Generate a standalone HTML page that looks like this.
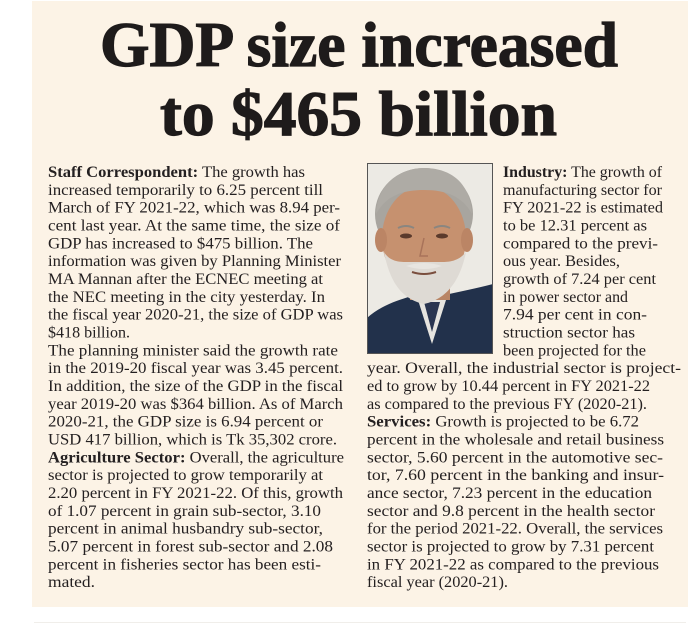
<!DOCTYPE html>
<html>
<head>
<meta charset="utf-8">
<style>
html,body{margin:0;padding:0;background:#ffffff;}
svg{display:block;}
.h{font-family:"Liberation Serif",serif;font-weight:bold;font-size:64px;fill:#1e1b1b;stroke:#1e1b1b;stroke-width:1.2px;}
.t{font-family:"Liberation Serif",serif;font-size:16px;fill:#242021;}
.b{font-weight:bold;}
</style>
</head>
<body>
<svg width="700" height="625" viewBox="0 0 700 625" xmlns="http://www.w3.org/2000/svg">
  <rect x="0" y="0" width="700" height="625" fill="#ffffff"/>
  <rect x="32" y="1" width="656" height="606" fill="#fcf3e6"/>
  <line x1="34" y1="622.5" x2="686" y2="622.5" stroke="#f0eeea" stroke-width="1"/>

  <!-- Headline -->
  <text class="h" x="100" y="66" textLength="518" lengthAdjust="spacingAndGlyphs">GDP size increased</text>
  <text class="h" x="160" y="135" textLength="397" lengthAdjust="spacingAndGlyphs">to $465 billion</text>

  <!-- Photo -->
  <g>
    <clipPath id="pc"><rect x="367" y="163" width="126" height="191"/></clipPath>
    <g clip-path="url(#pc)">
      <rect x="367" y="163" width="126" height="191" fill="#eceae4"/>
      <path d="M367,354 L367,318 C380,306 398,300 412,296 L440,296 C458,292 478,288 493,284 L493,354 Z" fill="#22314b"/>
      <path d="M418,300 L432,344 L446,300 Z" fill="#e6e4df"/>
      <path d="M424,302 L432,332 L440,302 Z" fill="#2a3550"/>
      <rect x="410" y="270" width="40" height="30" fill="#b98565"/>
      <ellipse cx="424" cy="214" rx="49" ry="46" fill="#a8a59f"/>
      <ellipse cx="424" cy="238" rx="42" ry="52" fill="#c6916f"/>
      <ellipse cx="381" cy="240" rx="6" ry="12" fill="#bb8565"/>
      <ellipse cx="467" cy="240" rx="6" ry="12" fill="#bb8565"/>
      <path d="M376,214 C378,180 404,168 424,168 C448,168 470,180 472,214 C462,196 446,190 424,190 C402,190 386,196 376,214 Z" fill="#aeaba5"/>
      <ellipse cx="406" cy="236" rx="6" ry="2.5" fill="#5a3a2c"/>
      <ellipse cx="442" cy="236" rx="6" ry="2.5" fill="#5a3a2c"/>
      <path d="M398,228 Q406,224 414,228" stroke="#8a8680" stroke-width="2" fill="none"/>
      <path d="M434,228 Q442,224 450,228" stroke="#8a8680" stroke-width="2" fill="none"/>
      <path d="M424,238 L420,256 L428,256" stroke="#a8735a" stroke-width="1.5" fill="none"/>
      <path d="M384,252 C388,272 396,298 424,304 C452,298 462,272 466,252 C458,262 448,262 440,262 L408,262 C400,262 390,262 384,252 Z" fill="#dedad4"/>
      <path d="M406,266 Q424,260 442,266 Q424,272 406,266 Z" fill="#e8e5e0"/>
      <path d="M412,272 Q424,276 436,272" stroke="#7a4e3e" stroke-width="2" fill="none"/>
    </g>
    <rect x="367.5" y="163.5" width="125" height="190" fill="none" stroke="#555555" stroke-width="1"/>
  </g>

  <!-- Left column -->
  <g class="t">
    <text x="48" y="177" textLength="257" lengthAdjust="spacingAndGlyphs"><tspan class="b">Staff Correspondent:</tspan> The growth has</text>
    <text x="48" y="194.8" textLength="275" lengthAdjust="spacingAndGlyphs">increased temporarily to 6.25 percent till</text>
    <text x="48" y="212.7" textLength="292" lengthAdjust="spacingAndGlyphs">March of FY 2021-22, which was 8.94 per-</text>
    <text x="48" y="230.5" textLength="292" lengthAdjust="spacingAndGlyphs">cent last year. At the same time, the size of</text>
    <text x="48" y="248.3" textLength="265" lengthAdjust="spacingAndGlyphs">GDP has increased to $475 billion. The</text>
    <text x="48" y="266.2" textLength="293" lengthAdjust="spacingAndGlyphs">information was given by Planning Minister</text>
    <text x="48" y="284" textLength="275" lengthAdjust="spacingAndGlyphs">MA Mannan after the ECNEC meeting at</text>
    <text x="48" y="301.8" textLength="277" lengthAdjust="spacingAndGlyphs">the NEC meeting in the city yesterday. In</text>
    <text x="48" y="319.6" textLength="295" lengthAdjust="spacingAndGlyphs">the fiscal year 2020-21, the size of GDP was</text>
    <text x="48" y="337.5" textLength="82" lengthAdjust="spacingAndGlyphs">$418 billion.</text>
    <text x="48" y="355.3" textLength="290" lengthAdjust="spacingAndGlyphs">The planning minister said the growth rate</text>
    <text x="48" y="373.1" textLength="295" lengthAdjust="spacingAndGlyphs">in the 2019-20 fiscal year was 3.45 percent.</text>
    <text x="48" y="391" textLength="295" lengthAdjust="spacingAndGlyphs">In addition, the size of the GDP in the fiscal</text>
    <text x="48" y="408.8" textLength="295" lengthAdjust="spacingAndGlyphs">year 2019-20 was $364 billion. As of March</text>
    <text x="48" y="426.6" textLength="275" lengthAdjust="spacingAndGlyphs">2020-21, the GDP size is 6.94 percent or</text>
    <text x="48" y="444.5" textLength="289" lengthAdjust="spacingAndGlyphs">USD 417 billion, which is Tk 35,302 crore.</text>
    <text x="48" y="462.3" textLength="296" lengthAdjust="spacingAndGlyphs"><tspan class="b">Agriculture Sector:</tspan> Overall, the agriculture</text>
    <text x="48" y="480.1" textLength="275" lengthAdjust="spacingAndGlyphs">sector is projected to grow temporarily at</text>
    <text x="48" y="497.9" textLength="295" lengthAdjust="spacingAndGlyphs">2.20 percent in FY 2021-22. Of this, growth</text>
    <text x="48" y="515.8" textLength="273" lengthAdjust="spacingAndGlyphs">of 1.07 percent in grain sub-sector, 3.10</text>
    <text x="48" y="533.6" textLength="275" lengthAdjust="spacingAndGlyphs">percent in animal husbandry sub-sector,</text>
    <text x="48" y="551.4" textLength="285" lengthAdjust="spacingAndGlyphs">5.07 percent in forest sub-sector and 2.08</text>
    <text x="48" y="569.3" textLength="273" lengthAdjust="spacingAndGlyphs">percent in fisheries sector has been esti-</text>
    <text x="48" y="587.1" textLength="47" lengthAdjust="spacingAndGlyphs">mated.</text>
  </g>

  <!-- Right column -->
  <g class="t">
    <text x="503" y="177" textLength="159" lengthAdjust="spacingAndGlyphs"><tspan class="b">Industry:</tspan> The growth of</text>
    <text x="503" y="194.8" textLength="159" lengthAdjust="spacingAndGlyphs">manufacturing sector for</text>
    <text x="503" y="212.7" textLength="160" lengthAdjust="spacingAndGlyphs">FY 2021-22 is estimated</text>
    <text x="503" y="230.5" textLength="144" lengthAdjust="spacingAndGlyphs">to be 12.31 percent as</text>
    <text x="503" y="248.3" textLength="155" lengthAdjust="spacingAndGlyphs">compared to the previ-</text>
    <text x="503" y="266.2" textLength="117" lengthAdjust="spacingAndGlyphs">ous year. Besides,</text>
    <text x="503" y="284" textLength="153" lengthAdjust="spacingAndGlyphs">growth of 7.24 per cent</text>
    <text x="503" y="301.8" textLength="125" lengthAdjust="spacingAndGlyphs">in power sector and</text>
    <text x="503" y="319.6" textLength="144" lengthAdjust="spacingAndGlyphs">7.94 per cent in con-</text>
    <text x="503" y="337.5" textLength="132" lengthAdjust="spacingAndGlyphs">struction sector has</text>
    <text x="503" y="355.3" textLength="143" lengthAdjust="spacingAndGlyphs">been projected for the</text>
    <text x="367" y="373.1" textLength="314" lengthAdjust="spacingAndGlyphs">year. Overall, the industrial sector is project-</text>
    <text x="367" y="391" textLength="283" lengthAdjust="spacingAndGlyphs">ed to grow by 10.44 percent in FY 2021-22</text>
    <text x="367" y="408.8" textLength="280" lengthAdjust="spacingAndGlyphs">as compared to the previous FY (2020-21).</text>
    <text x="367" y="426.6" textLength="272" lengthAdjust="spacingAndGlyphs"><tspan class="b">Services:</tspan> Growth is projected to be 6.72</text>
    <text x="367" y="444.5" textLength="297" lengthAdjust="spacingAndGlyphs">percent in the wholesale and retail business</text>
    <text x="367" y="462.3" textLength="296" lengthAdjust="spacingAndGlyphs">sector, 5.60 percent in the automotive sec-</text>
    <text x="367" y="480.1" textLength="297" lengthAdjust="spacingAndGlyphs">tor, 7.60 percent in the banking and insur-</text>
    <text x="367" y="497.9" textLength="285" lengthAdjust="spacingAndGlyphs">ance sector, 7.23 percent in the education</text>
    <text x="367" y="515.8" textLength="288" lengthAdjust="spacingAndGlyphs">sector and 9.8 percent in the health sector</text>
    <text x="367" y="533.6" textLength="296" lengthAdjust="spacingAndGlyphs">for the period 2021-22. Overall, the services</text>
    <text x="367" y="551.4" textLength="287" lengthAdjust="spacingAndGlyphs">sector is projected to grow by 7.31 percent</text>
    <text x="367" y="569.3" textLength="292" lengthAdjust="spacingAndGlyphs">in FY 2021-22 as compared to the previous</text>
    <text x="367" y="587.1" textLength="141" lengthAdjust="spacingAndGlyphs">fiscal year (2020-21).</text>
  </g>
</svg>
</body>
</html>
